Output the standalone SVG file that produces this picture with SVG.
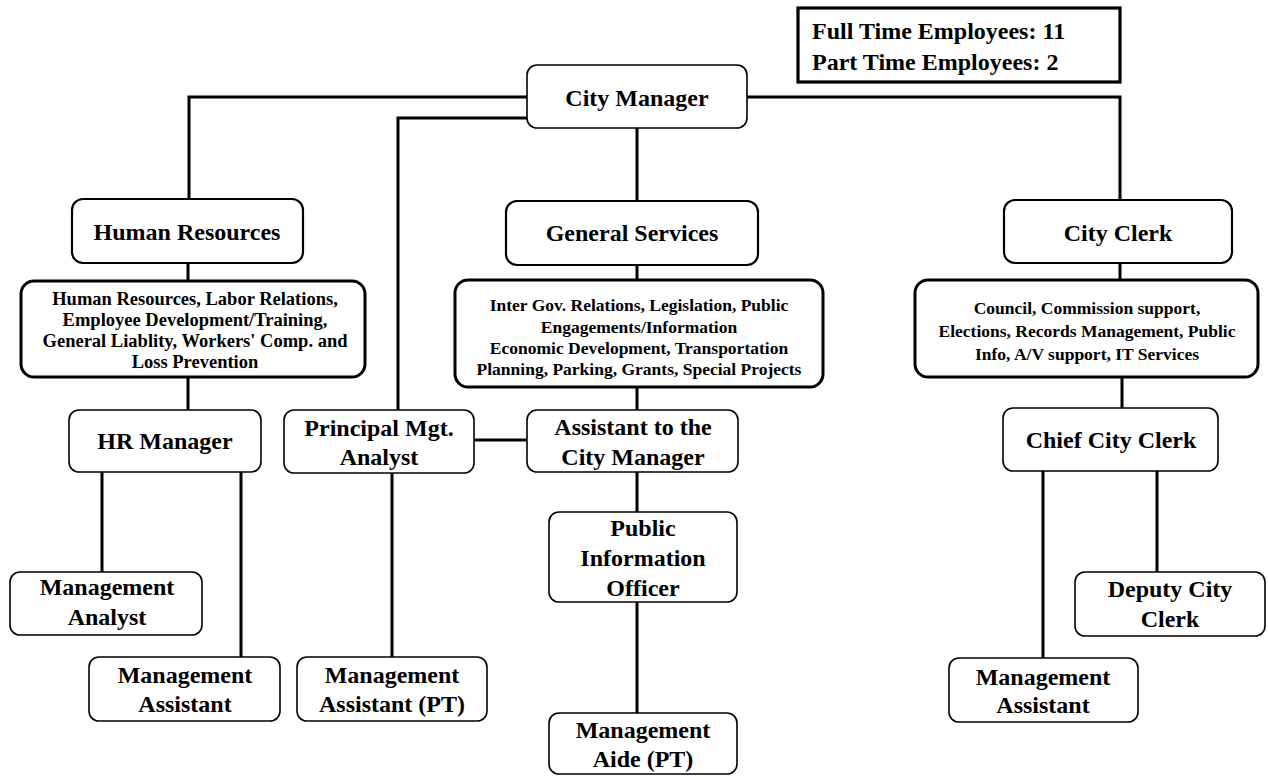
<svg xmlns="http://www.w3.org/2000/svg" width="1268" height="776" viewBox="0 0 1268 776">
<style>
.bg{fill:#ffffff}
.n{fill:#ffffff;stroke:#000;stroke-width:1.6}
.n1{fill:#ffffff;stroke:#000;stroke-width:2.2}
.d{fill:#ffffff;stroke:#000;stroke-width:3}
.e{fill:#ffffff;stroke:#000;stroke-width:3.2}
.c{fill:none;stroke:#000;stroke-width:3;stroke-linecap:square}
text{font-family:"Liberation Serif","Times New Roman",serif;font-weight:bold;fill:#000}
.t{font-size:24px;text-anchor:middle}
.s{font-size:17.5px;text-anchor:middle}
.s2{font-size:18.5px;text-anchor:middle}
.k{font-size:24px}
</style>
<rect class="bg" x="0" y="0" width="1268" height="776"/>
<g id="connectors">
<polyline class="c" points="527,97 189,97 189,199"/>
<polyline class="c" points="527,118 398,118 398,410"/>
<polyline class="c" points="747,97 1120,97 1120,200"/>
<line class="c" x1="637" y1="128" x2="637" y2="201"/>
<line class="c" x1="188" y1="263" x2="188" y2="281"/>
<line class="c" x1="637" y1="265" x2="637" y2="280"/>
<line class="c" x1="1120" y1="263" x2="1120" y2="280"/>
<line class="c" x1="188" y1="377" x2="188" y2="410"/>
<line class="c" x1="637" y1="387" x2="637" y2="410"/>
<line class="c" x1="1122" y1="377" x2="1122" y2="408"/>
<line class="c" x1="102" y1="472" x2="102" y2="572"/>
<line class="c" x1="241" y1="472" x2="241" y2="657"/>
<line class="c" x1="392" y1="472" x2="392" y2="657"/>
<line class="c" x1="474" y1="440" x2="527" y2="440"/>
<line class="c" x1="637" y1="472" x2="637" y2="512"/>
<line class="c" x1="637" y1="602" x2="637" y2="713"/>
<line class="c" x1="1043" y1="472" x2="1043" y2="658"/>
<line class="c" x1="1157" y1="472" x2="1157" y2="572"/>
</g>
<g id="employees">
<rect class="e" x="798" y="8" width="322" height="74"/>
<text class="k" x="812" y="39">Full Time Employees: 11</text>
<text class="k" x="812" y="70">Part Time Employees: 2</text>
</g>
<g id="city-manager">
<rect class="n" x="527" y="65" width="220" height="63" rx="10"/>
<text class="t" x="637" y="106">City Manager</text>
</g>
<g id="human-resources">
<rect class="n1" x="72" y="199" width="231" height="64" rx="11"/>
<text class="t" x="187" y="240">Human Resources</text>
</g>
<g id="general-services">
<rect class="n1" x="506" y="201" width="252" height="64" rx="11"/>
<text class="t" x="632" y="241">General Services</text>
</g>
<g id="city-clerk">
<rect class="n1" x="1004" y="200" width="228" height="63" rx="11"/>
<text class="t" x="1118" y="241">City Clerk</text>
</g>
<g id="hr-desc">
<rect class="d" x="21" y="281" width="344" height="96" rx="13"/>
<text class="s2" x="195" y="305">Human Resources, Labor Relations,</text>
<text class="s2" x="195" y="326">Employee Development/Training,</text>
<text class="s2" x="195" y="347">General Liablity,  Workers' Comp. and</text>
<text class="s2" x="195" y="368">Loss Prevention</text>
</g>
<g id="gs-desc">
<rect class="d" x="455" y="280" width="368" height="107" rx="13"/>
<text class="s" x="639" y="311">Inter Gov. Relations, Legislation, Public</text>
<text class="s" x="639" y="333">Engagements/Information</text>
<text class="s" x="639" y="354">Economic Development, Transportation</text>
<text class="s" x="639" y="375">Planning, Parking, Grants, Special Projects</text>
</g>
<g id="clerk-desc">
<rect class="d" x="915" y="280" width="343" height="97" rx="13"/>
<text class="s" x="1087" y="314">Council, Commission  support,</text>
<text class="s" x="1087" y="337">Elections, Records Management, Public</text>
<text class="s" x="1087" y="360">Info,  A/V support, IT Services</text>
</g>
<g id="hr-manager">
<rect class="n" x="69" y="410" width="192" height="62" rx="10"/>
<text class="t" x="165" y="449">HR Manager</text>
</g>
<g id="principal-analyst">
<rect class="n" x="284" y="410" width="190" height="63" rx="10"/>
<text class="t" x="379" y="436">Principal Mgt.</text>
<text class="t" x="379" y="465">Analyst</text>
</g>
<g id="assistant-cm">
<rect class="n" x="527" y="410" width="211" height="62" rx="10"/>
<text class="t" x="633" y="435">Assistant to the</text>
<text class="t" x="633" y="465">City Manager</text>
</g>
<g id="chief-clerk">
<rect class="n" x="1003" y="408" width="215" height="63" rx="10"/>
<text class="t" x="1111" y="448">Chief City Clerk</text>
</g>
<g id="pio">
<rect class="n" x="549" y="512" width="188" height="90" rx="10"/>
<text class="t" x="643" y="536">Public</text>
<text class="t" x="643" y="566">Information</text>
<text class="t" x="643" y="596">Officer</text>
</g>
<g id="mgmt-analyst">
<rect class="n" x="10" y="572" width="192" height="63" rx="10"/>
<text class="t" x="107" y="595">Management</text>
<text class="t" x="107" y="625">Analyst</text>
</g>
<g id="deputy-clerk">
<rect class="n" x="1075" y="572" width="190" height="64" rx="10"/>
<text class="t" x="1170" y="597">Deputy City</text>
<text class="t" x="1170" y="627">Clerk</text>
</g>
<g id="mgmt-assistant-hr">
<rect class="n" x="89" y="657" width="191" height="64" rx="10"/>
<text class="t" x="185" y="683">Management</text>
<text class="t" x="185" y="712">Assistant</text>
</g>
<g id="mgmt-assistant-pt">
<rect class="n" x="297" y="657" width="190" height="64" rx="10"/>
<text class="t" x="392" y="683">Management</text>
<text class="t" x="392" y="712">Assistant (PT)</text>
</g>
<g id="mgmt-aide">
<rect class="n" x="549" y="713" width="188" height="61" rx="10"/>
<text class="t" x="643" y="738">Management</text>
<text class="t" x="643" y="767">Aide (PT)</text>
</g>
<g id="mgmt-assistant-clerk">
<rect class="n" x="949" y="658" width="189" height="64" rx="10"/>
<text class="t" x="1043" y="685">Management</text>
<text class="t" x="1043" y="713">Assistant</text>
</g>
</svg>
